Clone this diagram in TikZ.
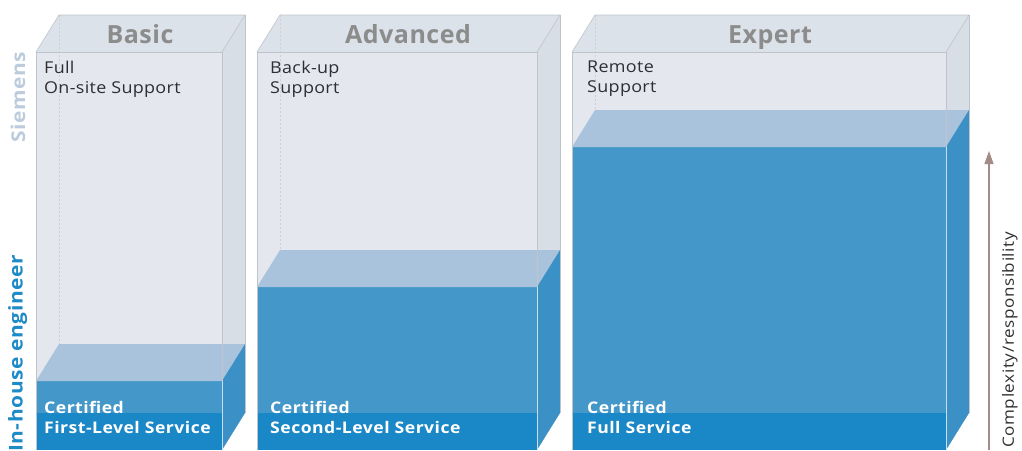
\documentclass[tikz,border=0pt]{standalone}
\usepackage{fontspec}
\setmainfont{Open Sans}
\newfontfamily\widesans[FakeStretch=1.1]{Open Sans}
\usetikzlibrary{arrows.meta}
\definecolor{glassfront}{HTML}{E4E8EE}
\definecolor{glasstop}{HTML}{DCE2E9}
\definecolor{glassside}{HTML}{D8DEE6}
\definecolor{glassedge}{HTML}{BFC4CA}
\definecolor{bluefront}{HTML}{4397C9}
\definecolor{bluetop}{HTML}{A9C3DD}
\definecolor{blueside}{HTML}{3B90C5}
\definecolor{bluefloor}{HTML}{1A87C6}
\definecolor{titlegray}{HTML}{8C8C8C}
\definecolor{textdark}{HTML}{2E2E33}
\definecolor{siemenslight}{HTML}{BCCCDC}
\definecolor{inhouseblue}{HTML}{1E8BC8}
\definecolor{arrowbrown}{HTML}{A38C88}
\tikzset{
  title/.style={font=\fontsize{25}{27}\selectfont\bfseries\addfontfeature{LetterSpace=2}, text=titlegray, inner sep=0pt, anchor=base},
  uppertext/.style={font=\widesans\fontsize{16.3}{20}\selectfont\addfontfeature{LetterSpace=2}, text=textdark, align=left, anchor=north west, inner sep=0pt},
  lowertext/.style={font=\widesans\fontsize{16}{20}\selectfont\bfseries\addfontfeature{LetterSpace=3}, text=white, align=left, anchor=north west, inner sep=0pt},
  sidelabel/.style={font=\widesans\fontsize{19}{20}\selectfont\bfseries\addfontfeature{LetterSpace=3}, rotate=90, inner sep=0pt},
  edge/.style={draw=glassedge, line width=0.6pt},
}
% glass box with a blue block inside:
% #1 left of front face, #2 right of front face, #3 front top of blue block
\newcommand\glassbox[3]{%
  \pgfmathsetmacro\dx{23}\pgfmathsetmacro\dy{37}%
  % glass faces
  \fill[glassfront] (#1,52) rectangle (#2,450);
  \fill[glasstop] (#1,52) -- (#1+\dx,52-\dy) -- (#2+\dx,52-\dy) -- (#2,52) -- cycle;
  \fill[glassside] (#2,52) -- (#2+\dx,52-\dy) -- (#2+\dx,450-\dy) -- (#2,450) -- cycle;
  % hidden back edge
  \draw[glassedge!80, line width=0.5pt, dash pattern=on 2pt off 2pt] (#1+\dx,52-\dy) -- (#1+\dx,#3-\dy);
  % blue block
  \fill[bluefront] (#1,#3) rectangle (#2,450);
  \fill[bluefloor] (#1,450-\dy) rectangle (#2,450);
  \fill[bluetop] (#1,#3) -- (#1+\dx,#3-\dy) -- (#2+\dx,#3-\dy) -- (#2,#3) -- cycle;
  \fill[blueside] (#2,#3) -- (#2+\dx,#3-\dy) -- (#2+\dx,450-\dy) -- (#2,450) -- cycle;
  % glass edges
  \draw[edge] (#1,450) -- (#1,52) -- (#2,52) -- (#2,450);
  \draw[edge] (#1,52) -- (#1+\dx,52-\dy) -- (#2+\dx,52-\dy) -- (#2,52);
  \draw[edge] (#2+\dx,52-\dy) -- (#2+\dx,450-\dy);
  \draw[white!70!bluefront, line width=0.6pt] (#2,#3) -- (#2,450);
}
\begin{document}
\begin{tikzpicture}[x=1pt, y=-1pt]
\useasboundingbox (0,0) rectangle (1022,450);
\fill[white] (0,0) rectangle (1022,450);

\glassbox{36}{222}{381}
\glassbox{257}{537}{287}
\glassbox{572}{946}{147}

% level titles
\node[title] (basic) at (140,43) {Basic};
\node[title] (advanced) at (408,43) {Advanced};
\node[title] (expert) at (770,43) {Expert};

% support offered by Siemens
\node[uppertext] (fullsupport) at (44,61) {Full\\On-site Support};
\node[uppertext] (backup) at (270,61) {Back-up\\Support};
\node[uppertext] (remote) at (587,61) {Remote\\Support};

% service provided in-house
\node[lowertext] (first) at (44,401) {Certified\\First-Level Service};
\node[lowertext] (second) at (270,401) {Certified\\Second-Level Service};
\node[lowertext] (full) at (587,401) {Certified\\Full Service};

% side labels
\node[sidelabel, text=siemenslight] (siemens) at (18,97) {Siemens};
\node[sidelabel, text=inhouseblue, anchor=north west] (inhouse) at (8,452) {In-house engineer};

% complexity arrow
\coordinate (arrowfoot) at (989,450);
\coordinate (arrowtip) at (989,151);
\draw[arrowbrown, line width=1.3pt, -{Triangle[length=13pt, width=9pt]}] (arrowfoot) -- (arrowtip);
\node[font=\widesans\fontsize{15.5}{16}\selectfont\addfontfeature{LetterSpace=4}, text=textdark, rotate=90, inner sep=0pt, anchor=north west] (complexity) at (1002,448) {Complexity/responsibility};
\end{tikzpicture}
\end{document}
